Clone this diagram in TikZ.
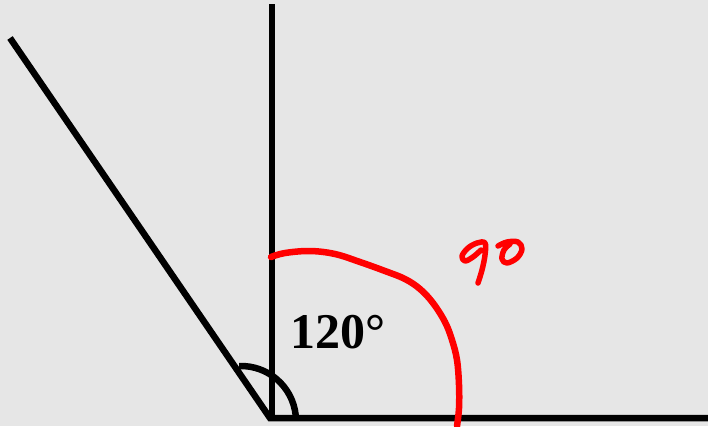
\documentclass[tikz,border=0pt]{standalone}
\usepackage{fontspec}
\newfontfamily\labelfont{Liberation Serif}
\definecolor{bggray}{RGB}{230,230,230}
\definecolor{inkred}{RGB}{255,0,0}
\begin{document}
\begin{tikzpicture}[x=1pt,y=-1pt,
  ray/.style={line width=6.5pt,black},
  anglemark/.style={line width=6.5pt,black},
  redink/.style={line width=6.5pt,inkred,line cap=round,line join=round},
  redtext/.style={line width=5.5pt,inkred,line cap=round,line join=round},
  anglelabel/.style={font=\labelfont\bfseries\fontsize{50}{50}\selectfont,inner sep=0pt,anchor=base west}]
\fill[bggray] (0,0) rectangle (708,426);
\useasboundingbox (0,0) rectangle (708,426);
% points
\coordinate (O) at (270,418);
\coordinate (V) at (272,4);
\coordinate (H) at (708,418);
\coordinate (D) at (10,38);
\coordinate (C) at (241,421);
% rays
\draw[ray] (V) -- (272,421);
\draw[ray,line join=miter] (D) -- (O) -- (H);
% angle mark
\draw[anglemark] (C) ++(6:55pt) arc[start angle=6,end angle=92,radius=55pt];
% label
\node[anglelabel] (lab) at (290,348) {120°};
% red hand-drawn arc
\draw[redink] plot[smooth,tension=0.6] coordinates {(271,257) (285,253) (310,251) (335,254) (360,262) (385,271) (405,279) (420,289) (433,303) (445,322) (452,340) (457,360) (459,385) (459,408) (457,426)};
% red "90"
\draw[redtext] plot[smooth,tension=0.6] coordinates {(481,250) (473,257) (465,261) (462,256) (468,248) (477,243) (485,243) (485,255) (482,270) (478,283)};
\draw[redtext] plot[smooth,tension=0.6] coordinates {(498,246) (507,242) (518,242) (522,249) (517,258) (507,263) (502,259) (504,250) (510,244)};
\end{tikzpicture}
\end{document}
